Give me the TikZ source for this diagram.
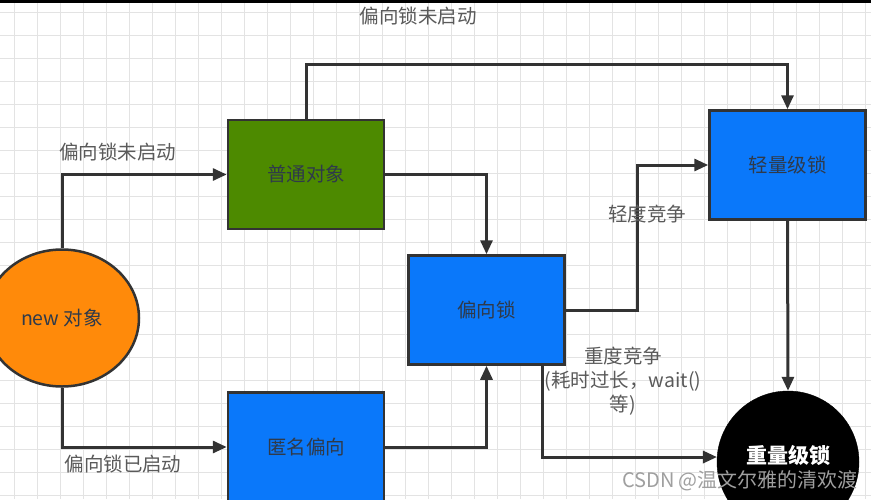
\documentclass[tikz,border=0pt]{standalone}
\usepackage{fontspec}
\newfontfamily\cjk{Noto Sans CJK SC}
\usetikzlibrary{arrows.meta,shapes.geometric}
\definecolor{gridc}{HTML}{E3E3E3}
\definecolor{linec}{HTML}{333333}
\definecolor{boxgreen}{HTML}{4D8A00}
\definecolor{boxblue}{HTML}{0A78FA}
\definecolor{boxorange}{HTML}{FF8A0A}
\definecolor{labc}{HTML}{5A5A5A}
\definecolor{boxtext}{HTML}{2F3A4A}
\tikzset{
  stbox/.style={draw=linec, line width=2.5pt, minimum width=156pt, minimum height=109pt, inner sep=0pt,
    font=\cjk\fontsize{19.5}{22}\selectfont, text=boxtext},
  conn/.style={draw=linec, line width=3pt, -{Triangle[length=14pt,width=12pt]}},
  lab/.style={font=\cjk\fontsize{19.5}{24}\selectfont, text=labc, inner sep=0pt, align=center},
}
\begin{document}
\begin{tikzpicture}[x=1pt,y=-1pt]
\useasboundingbox (0,0) rectangle (871,499);
\fill[white] (0,0) rectangle (871,499);
\begin{scope}
\clip (0,0) rectangle (871,499);
\foreach \i in {0,...,38} \draw[gridc, line width=0.9pt] (\i*23+14,0) -- ++(0,499);
\foreach \i in {0,...,22} \draw[gridc, line width=0.9pt] (0,\i*23+12) -- ++(871,0);
\fill[black] (0,0) rectangle (871,3);

\node[ellipse, draw=linec, line width=2.5pt, fill=boxorange, minimum width=154pt, minimum height=137pt,
  font=\cjk\fontsize{19.5}{22}\selectfont, text=boxtext] (new) at (62,318) {new 对象};
\node[stbox, fill=boxgreen] (plain) at (306,174.5) {普通对象};
\node[stbox, fill=boxblue] (light) at (787.5,165) {轻量级锁};
\node[stbox, fill=boxblue] (bias) at (486.5,310) {偏向锁};
\node[stbox, fill=boxblue] (anon) at (306,447) {匿名偏向};
\node[circle, draw=black, fill=black, minimum size=142pt, inner sep=0pt] (heavy) at (788,462) {};
\node[font=\cjk\bfseries\fontsize{21}{24}\selectfont, text=white] (heavytxt) at (788,455) {重量级锁};

\coordinate (topy) at (0,64);
\coordinate (k1) at (637,310);
\coordinate (k2) at (542,0);

\draw[conn] (new.north) |- (plain.west);
\draw[conn] (plain.north) -- (plain.north |- topy) -| (light.north);
\draw[conn] (plain.east) -| (bias.north);
\draw[conn] (bias.east) -- (k1) |- (light.west);
\draw[conn] (light.south) -- (heavy.north);
\draw[conn] (bias.south -| k2) |- (heavy.176);
\draw[conn] (new.south) |- (anon.west);
\draw[conn] (anon.east) -| (bias.south);

\node[lab] (l1) at (418,16) {偏向锁未启动};
\node[lab] (l2) at (118,152) {偏向锁未启动};
\node[lab] (l3) at (647,214) {轻度竞争};
\node[lab] (l4) at (623,381) {重度竞争\\(耗时过长，wait()\\等)};
\node[lab] (l5) at (123,464) {偏向锁已启动};
\node[font=\cjk\fontsize{20}{22}\selectfont, text=gray!75, inner sep=0pt] (wm) at (740,481) {CSDN @温文尔雅的清欢渡};
\end{scope}
\end{tikzpicture}
\end{document}
